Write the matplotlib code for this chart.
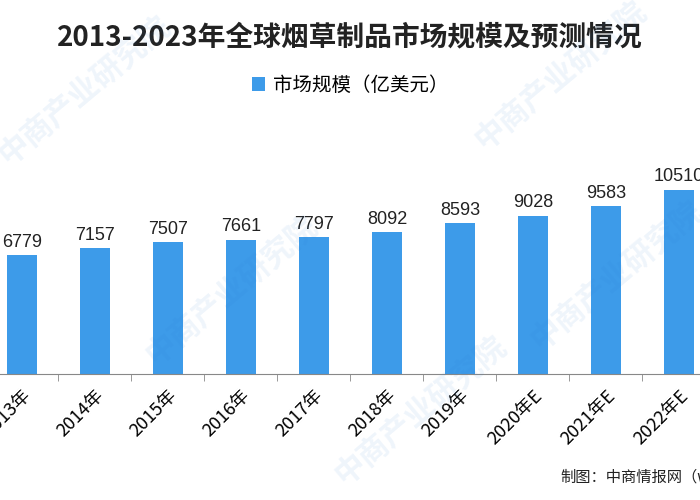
import matplotlib
matplotlib.use("Agg")
import matplotlib.pyplot as plt

plt.rcParams['font.family'] = ['Noto Sans CJK SC', 'DejaVu Sans']

years = ["2013年", "2014年", "2015年", "2016年", "2017年", "2018年", "2019年",
         "2020年E", "2021年E", "2022年E", "2023年E"]
values = [6779, 7157, 7507, 7661, 7797, 8092, 8593, 9028, 9583, 10510, 11100]

color = "#3d9be9"
fig = plt.figure(figsize=(7, 5), dpi=100)
ax = fig.add_axes([0, 0.252, 1, 0.491])
x = list(range(len(years)))
ax.bar(x, values, width=0.41, color=color, label="市场规模（亿美元）")
for xi, v in zip(x, values):
    ax.text(xi, v + 250, f"{v}", ha="center", va="bottom", fontsize=13, color="#222222",
            family=["Liberation Sans", "DejaVu Sans"])
ax.set_yticks([])
ax.set_xticks(x)
ax.set_xticklabels(years, rotation=45, ha="right", rotation_mode="anchor", fontsize=13,
                   family=["Noto Sans CJK SC"])
ax.set_xticks([i + 0.5 for i in x], minor=True)
ax.tick_params(axis="x", which="major", length=0, pad=9)
ax.tick_params(axis="x", which="minor", length=5, color="#888888")
ax.set_xlim(-0.301, 9.288)
ax.set_ylim(0, 14000)
for s in ["top", "right", "left"]:
    ax.spines[s].set_visible(False)
ax.spines["bottom"].set_color("#888888")

fig.text(0.5, 0.925, "2013-2023年全球烟草制品市场规模及预测情况", ha="center", va="center",
         fontsize=20, fontweight="bold", color="#222222")
ax.legend(loc="center", bbox_to_anchor=(0.5, 0.83), bbox_transform=fig.transFigure,
          frameon=False, fontsize=14, handlelength=0.7, handleheight=0.7, handletextpad=0.4)
fig.text(0.8, 0.045, "制图：中商情报网（www.askci.com）", ha="left", va="center",
         fontsize=11, color="#222222")
for (wx, wy) in [(0.12, 0.82), (0.33, 0.42), (0.6, 0.18), (0.88, 0.45), (0.8, 0.85)]:
    fig.text(wx, wy, "中商产业研究院", rotation=40, fontsize=22, color="#2b7bd0",
             alpha=0.08, ha="center", va="center", fontweight="bold")
fig.savefig("out.png", dpi=100)
